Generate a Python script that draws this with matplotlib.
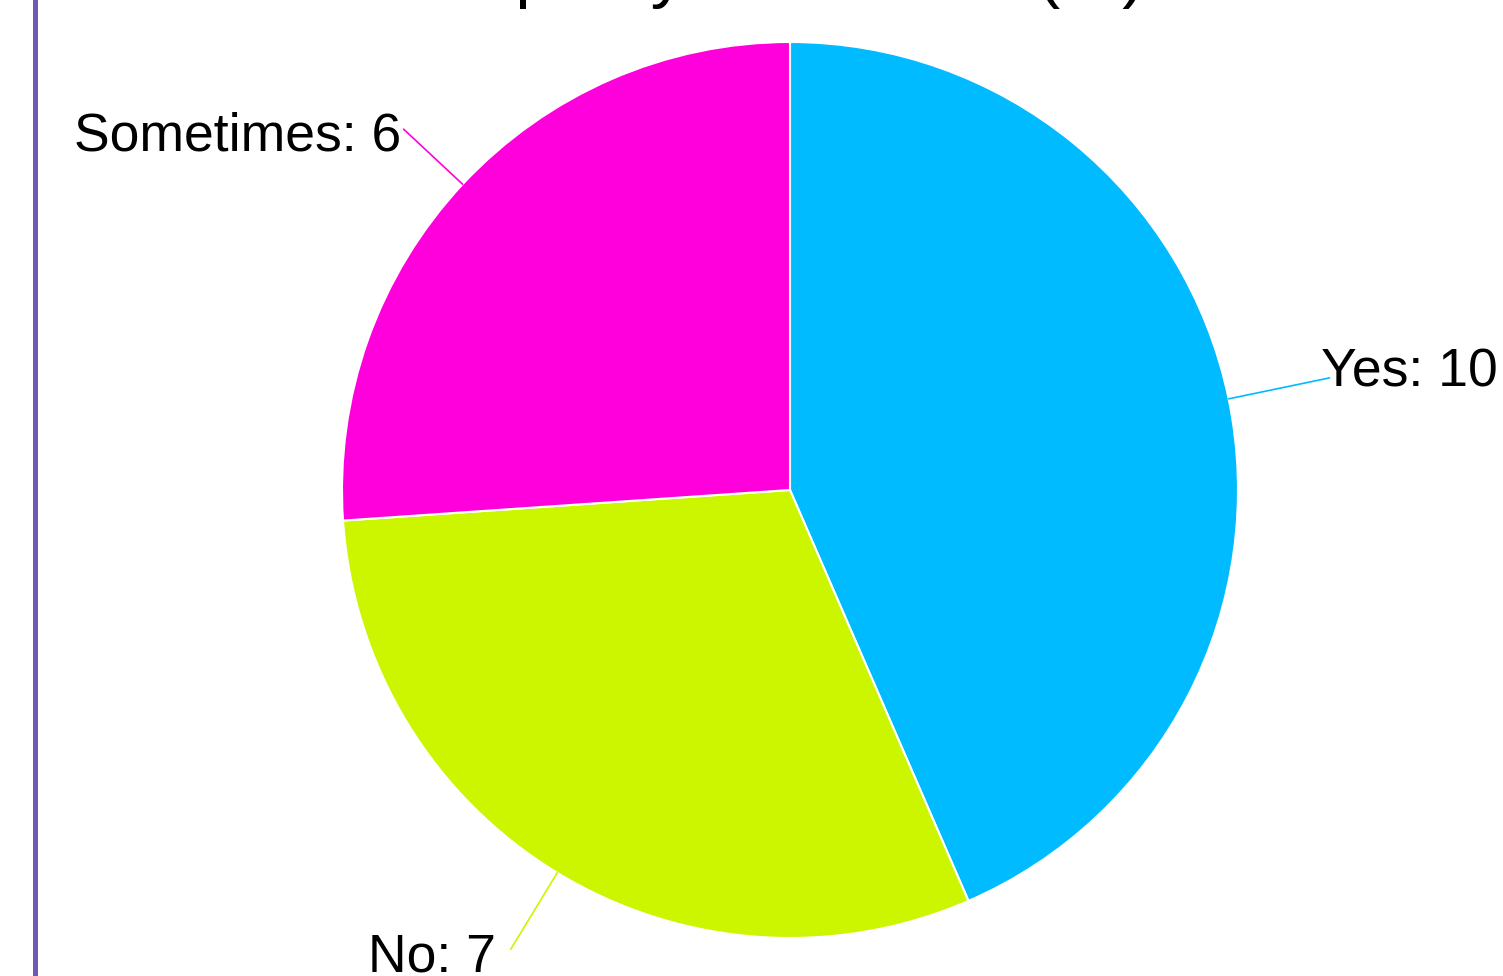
import numpy as np
import matplotlib
matplotlib.use("Agg")
import matplotlib.pyplot as plt
from matplotlib.lines import Line2D

# ---- data ----
categories = ["Yes", "No", "Sometimes"]
counts = [10, 7, 6]
colors = ["#00BBFF", "#CCF500", "#FF00DD"]
title_text = "Help any classmate (%)"

# ---- layout ----
label_radius = [1.23, 1.20, 1.18]
label_dx_px = [-9, -15, -2]
label_dy_px = [-5, 8, 7]   # positive = downward

plt.rcParams['font.family'] = ['Liberation Sans', 'DejaVu Sans']

W, H, DPI = 1503, 976, 100
fig = plt.figure(figsize=(W / DPI, H / DPI), dpi=DPI)
fig.patch.set_facecolor("white")

# pie geometry in pixels
cx, cy, R = 790, 490, 448
lim = 1.3
size = 2 * lim * R
ax = fig.add_axes([(cx - size / 2) / W, ((H - cy) - size / 2) / H, size / W, size / H])
ax.set_aspect('equal')
ax.axis('off')

wedges, _ = ax.pie(counts, colors=colors, startangle=90, counterclock=False,
                   radius=1.0, center=(0, 0),
                   wedgeprops=dict(edgecolor="white", linewidth=1.5))
ax.set_xlim(-lim, lim)
ax.set_ylim(-lim, lim)

for w, cat, val, col, rf, dx, dy in zip(wedges, categories, counts, colors,
                                        label_radius, label_dx_px, label_dy_px):
    ang = np.deg2rad((w.theta1 + w.theta2) / 2)
    x0, y0 = np.cos(ang), np.sin(ang)
    x1, y1 = rf * x0, rf * y0
    ax.plot([x0, x1], [y0, y1], color=col, lw=1.2, solid_capstyle='round', zorder=3)
    ha = 'left' if x1 > 0 else 'right'
    ax.text(x1 + dx / R, y1 - dy / R, f"{cat}: {val}", ha=ha, va='center',
            fontsize=38.5, color='black', zorder=4)

# title (mostly cut off at the top)
fig.text(0.518, 1 + 4.5 / H, title_text, ha='center', va='baseline', fontsize=50, color='black')

# left purple border line
fig.add_artist(Line2D([35 / W, 35 / W], [0, 1], color="#7058B4", lw=3.6,
                      transform=fig.transFigure))

fig.savefig("out.png", dpi=DPI, facecolor="white")
